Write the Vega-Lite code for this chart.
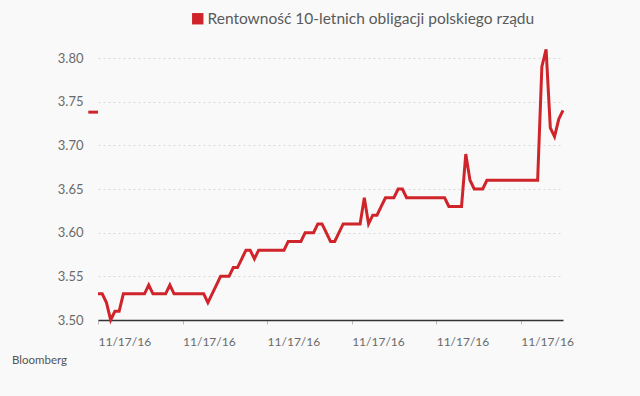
{
  "$schema": "https://vega.github.io/schema/vega-lite/v6.json",
  "width": 465,
  "height": 262,
  "autosize": "none",
  "padding": {"left": 98, "top": 58, "right": 77, "bottom": 76},
  "background": "#f9f9f9",
  "config": {
    "view": {"stroke": null},
    "font": "Lato",
    "axis": {"labelFont": "Lato", "labelColor": "#666666", "labelFontSize": 13},
    "legend": {"labelFont": "Lato"}
  },
  "title": {
    "text": "Bloomberg",
    "orient": "bottom",
    "anchor": "start",
    "frame": "group",
    "dx": -86,
    "offset": 8,
    "fontSize": 11.5,
    "fontWeight": "normal",
    "color": "#555555",
    "font": "Lato"
  },
  "datasets": {
    "yield": [
      {"i": 0, "v": 3.53}, {"i": 1, "v": 3.53}, {"i": 2, "v": 3.52}, {"i": 3, "v": 3.50},
      {"i": 4, "v": 3.51}, {"i": 5, "v": 3.51}, {"i": 6, "v": 3.53}, {"i": 7, "v": 3.53},
      {"i": 8, "v": 3.53}, {"i": 9, "v": 3.53}, {"i": 10, "v": 3.53}, {"i": 11, "v": 3.53},
      {"i": 12, "v": 3.54}, {"i": 13, "v": 3.53}, {"i": 14, "v": 3.53}, {"i": 15, "v": 3.53},
      {"i": 16, "v": 3.53}, {"i": 17, "v": 3.54}, {"i": 18, "v": 3.53}, {"i": 19, "v": 3.53},
      {"i": 20, "v": 3.53}, {"i": 21, "v": 3.53}, {"i": 22, "v": 3.53}, {"i": 23, "v": 3.53},
      {"i": 24, "v": 3.53}, {"i": 25, "v": 3.53}, {"i": 26, "v": 3.52}, {"i": 27, "v": 3.53},
      {"i": 28, "v": 3.54}, {"i": 29, "v": 3.55}, {"i": 30, "v": 3.55}, {"i": 31, "v": 3.55},
      {"i": 32, "v": 3.56}, {"i": 33, "v": 3.56}, {"i": 34, "v": 3.57}, {"i": 35, "v": 3.58},
      {"i": 36, "v": 3.58}, {"i": 37, "v": 3.57}, {"i": 38, "v": 3.58}, {"i": 39, "v": 3.58},
      {"i": 40, "v": 3.58}, {"i": 41, "v": 3.58}, {"i": 42, "v": 3.58}, {"i": 43, "v": 3.58},
      {"i": 44, "v": 3.58}, {"i": 45, "v": 3.59}, {"i": 46, "v": 3.59}, {"i": 47, "v": 3.59},
      {"i": 48, "v": 3.59}, {"i": 49, "v": 3.60}, {"i": 50, "v": 3.60}, {"i": 51, "v": 3.60},
      {"i": 52, "v": 3.61}, {"i": 53, "v": 3.61}, {"i": 54, "v": 3.60}, {"i": 55, "v": 3.59},
      {"i": 56, "v": 3.59}, {"i": 57, "v": 3.60}, {"i": 58, "v": 3.61}, {"i": 59, "v": 3.61},
      {"i": 60, "v": 3.61}, {"i": 61, "v": 3.61}, {"i": 62, "v": 3.61}, {"i": 63, "v": 3.64},
      {"i": 64, "v": 3.61}, {"i": 65, "v": 3.62}, {"i": 66, "v": 3.62}, {"i": 67, "v": 3.63},
      {"i": 68, "v": 3.64}, {"i": 69, "v": 3.64}, {"i": 70, "v": 3.64}, {"i": 71, "v": 3.65},
      {"i": 72, "v": 3.65}, {"i": 73, "v": 3.64}, {"i": 74, "v": 3.64}, {"i": 75, "v": 3.64},
      {"i": 76, "v": 3.64}, {"i": 77, "v": 3.64}, {"i": 78, "v": 3.64}, {"i": 79, "v": 3.64},
      {"i": 80, "v": 3.64}, {"i": 81, "v": 3.64}, {"i": 82, "v": 3.64}, {"i": 83, "v": 3.63},
      {"i": 84, "v": 3.63}, {"i": 85, "v": 3.63}, {"i": 86, "v": 3.63}, {"i": 87, "v": 3.69},
      {"i": 88, "v": 3.66}, {"i": 89, "v": 3.65}, {"i": 90, "v": 3.65}, {"i": 91, "v": 3.65},
      {"i": 92, "v": 3.66}, {"i": 93, "v": 3.66}, {"i": 94, "v": 3.66}, {"i": 95, "v": 3.66},
      {"i": 96, "v": 3.66}, {"i": 97, "v": 3.66}, {"i": 98, "v": 3.66}, {"i": 99, "v": 3.66},
      {"i": 100, "v": 3.66}, {"i": 101, "v": 3.66}, {"i": 102, "v": 3.66}, {"i": 103, "v": 3.66},
      {"i": 104, "v": 3.66}, {"i": 105, "v": 3.79}, {"i": 106, "v": 3.81}, {"i": 107, "v": 3.72},
      {"i": 108, "v": 3.71}, {"i": 109, "v": 3.73}, {"i": 110, "v": 3.74}
    ],
    "prev": [{"i": -2.3, "i2": 0, "v": 3.738}]
  },
  "layer": [
    {
      "data": {"name": "yield"},
      "transform": [{"calculate": "'Rentowność 10-letnich obligacji polskiego rządu'", "as": "s"}],
      "mark": {"type": "line", "strokeWidth": 3, "strokeJoin": "miter", "clip": false},
      "encoding": {
        "x": {
          "field": "i", "type": "quantitative",
          "scale": {"domain": [0, 110], "nice": false, "zero": false},
          "axis": {
            "values": [0, 20, 40, 60, 80, 100],
            "labelExpr": "'11/17/16'",
            "labelAlign": "left",
            "labelPadding": 12,
            "labelFontSize": 12,
            "labelColor": "#6a6a6a",
            "labelDx": -1,
            "title": null,
            "grid": false,
            "domainColor": "#333333",
            "domainWidth": 1.5,
            "tickColor": "#bbbbbb",
            "tickSize": 4,
            "tickOffset": 0
          }
        },
        "y": {
          "field": "v", "type": "quantitative",
          "scale": {"domain": [3.5, 3.8], "nice": false, "zero": false},
          "axis": {
            "values": [3.5, 3.55, 3.6, 3.65, 3.7, 3.75, 3.8],
            "format": ".2f",
            "title": null,
            "domain": false,
            "ticks": false,
            "labelPadding": 15,
            "labelFontSize": 13,
            "labelColor": "#6a6a6a",
            "gridDash": [2, 3],
            "gridColor": "#d8d8d8",
            "gridWidth": 1
          }
        },
        "color": {
          "field": "s", "type": "nominal",
          "scale": {"range": ["#d0242b"]},
          "legend": {
            "title": null,
            "orient": "none",
            "legendX": 92,
            "legendY": -47,
            "symbolType": "square",
            "symbolSize": 130,
            "symbolStrokeWidth": 0,
            "labelFontSize": 15.5,
            "labelColor": "#5a5a5a",
            "labelLimit": 500,
            "labelOffset": 2,
            "encode": {"symbols": {"update": {"fill": {"value": "#d0242b"}, "stroke": {"value": "#d0242b"}, "opacity": {"value": 1}}}}
          }
        }
      }
    },
    {
      "data": {"name": "prev"},
      "mark": {"type": "rule", "color": "#d0242b", "strokeWidth": 3, "clip": false},
      "encoding": {
        "x": {"field": "i", "type": "quantitative"},
        "x2": {"field": "i2"},
        "y": {"field": "v", "type": "quantitative"}
      }
    }
  ]
}
